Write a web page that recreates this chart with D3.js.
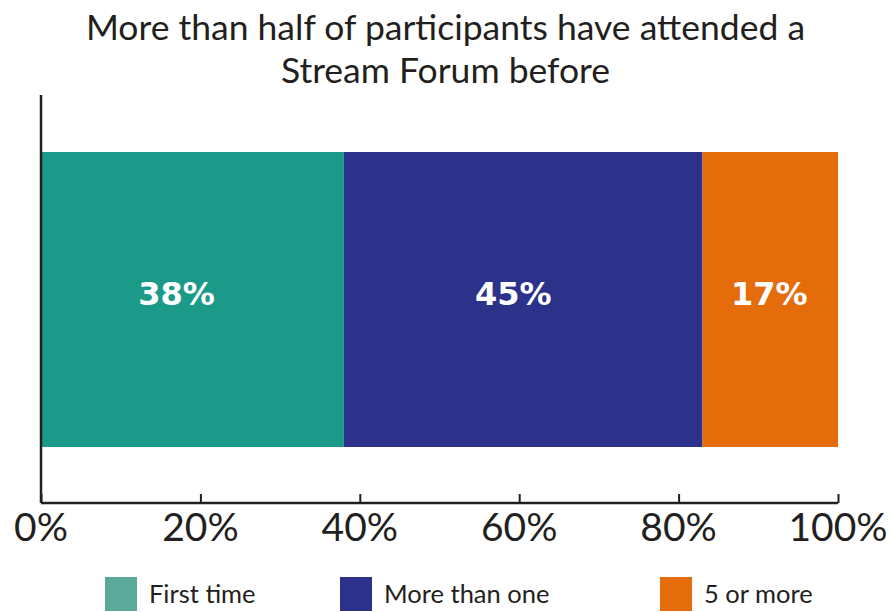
<!DOCTYPE html>
<html>
<head>
<meta charset="utf-8">
<script src="https://cdn.jsdelivr.net/npm/d3@7"></script>
<style>
  body { margin: 0; background: #fff; }
  svg text { font-family: Lato, "Open Sans", sans-serif; fill: #231f20; }
</style>
</head>
<body>
<div id="root"></div>
<script>
// ——— data
const categories = ["First time", "More than one", "5 or more"];
const values = [38, 45, 17];
const barColors = ["#1b9a8a", "#2c318a", "#e46c0a"];
const legendColors = ["#5aa99b", "#2c318a", "#e46c0a"];
const ticks = [0, 20, 40, 60, 80, 100];
const titleLines = ["More than half of participants have attended a", "Stream Forum before"];

const width = 891, height = 612;
const svg = d3.select("#root").append("svg")
  .attr("width", width).attr("height", height);

// ——— scales
const x = d3.scaleLinear().domain([0, 100]).range([41, 838]);

// stacked segments
let cum = 0;
const segs = values.map((v, i) => {
  const s = { cat: categories[i], v, x0: cum, x1: cum + v, color: barColors[i] };
  cum += v;
  return s;
});

// title
svg.append("g").selectAll("text")
  .data(titleLines)
  .enter().append("text")
  .attr("x", width / 2)
  .attr("y", (d, i) => 40 + i * 43)
  .attr("text-anchor", "middle")
  .style("font-size", "35.5px")
  .text(d => d);

// bars
const barTop = 152, barBot = 447;
svg.selectAll(".bar")
  .data(segs)
  .enter().append("rect")
  .attr("x", d => x(d.x0))
  .attr("width", d => x(d.x1) - x(d.x0))
  .attr("y", barTop)
  .attr("height", barBot - barTop)
  .attr("fill", d => d.color);

// labels sit a bit left of centre in the original
const nudge = [-16, -10, -1];
svg.selectAll(".lbl")
  .data(segs)
  .enter().append("text")
  .attr("x", (d, i) => (x(d.x0) + x(d.x1)) / 2 + nudge[i])
  .attr("y", 305)
  .attr("text-anchor", "middle")
  .style("font-family", "'DejaVu Sans', sans-serif")
  .style("font-size", "32px")
  .style("font-weight", "bold")
  .style("fill", "#fff")
  .text(d => d.v + "%");

// axes
const base = 503;
const xAxis = svg.append("g")
  .attr("transform", `translate(0,${base})`)
  .call(d3.axisTop(x).tickValues(ticks).tickSize(9).tickFormat(""));
xAxis.select(".domain").remove();
xAxis.selectAll("line").attr("stroke", "#231f20").attr("stroke-width", 2);

svg.append("line")
  .attr("x1", x(0)).attr("x2", x(100))
  .attr("y1", base).attr("y2", base)
  .attr("stroke", "#231f20").attr("stroke-width", 2.5);
svg.append("line")
  .attr("x1", x(0)).attr("x2", x(0))
  .attr("y1", 95).attr("y2", base)
  .attr("stroke", "#231f20").attr("stroke-width", 2.5);

svg.append("g").selectAll("text")
  .data(ticks)
  .enter().append("text")
  .attr("x", d => x(d))
  .attr("y", 541)
  .attr("text-anchor", "middle")
  .style("font-size", "39px")
  .text(d => d + "%");

// legend
const legX = [105, 340, 660];
const leg = svg.append("g").selectAll("g")
  .data(categories)
  .enter().append("g")
  .attr("transform", (d, i) => `translate(${legX[i]},577)`);
leg.append("rect")
  .attr("width", 32).attr("height", 34)
  .attr("fill", (d, i) => legendColors[i]);
leg.append("text")
  .attr("x", 44).attr("y", 26)
  .style("font-size", "25.5px")
  .text(d => d);
</script>
</body>
</html>
